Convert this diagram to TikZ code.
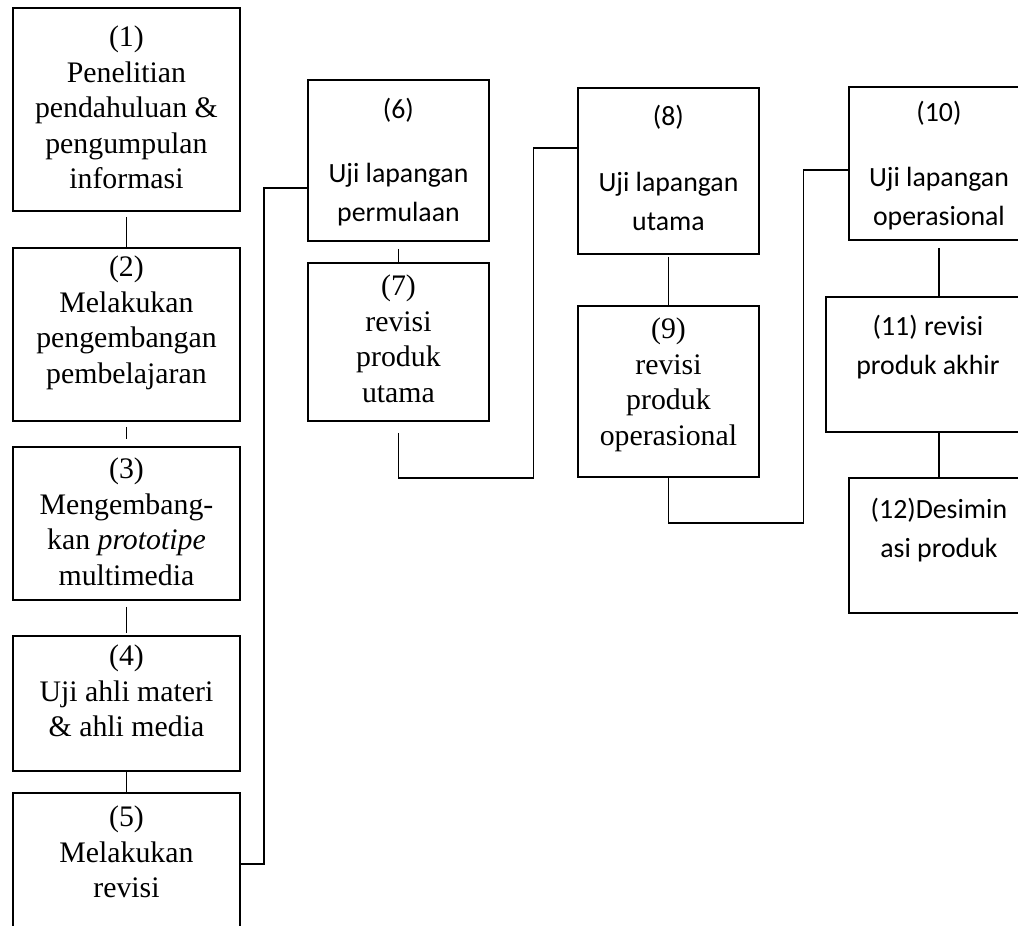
\documentclass[tikz,border=0pt]{standalone}
\usepackage{fontspec}
\setmainfont{Liberation Serif}
\newfontfamily\calfont{Carlito}
\begin{document}
\begin{tikzpicture}[x=1pt,y=-1pt,line width=1.9pt]
\tikzset{
  boxx/.style={draw, rectangle, line width=1.9pt, inner sep=0pt, anchor=north west},
  serif/.style={align=center, inner sep=0pt, anchor=north, font=\fontsize{29.8}{35.5}\selectfont},
  sans/.style={align=center, inner sep=0pt, anchor=north, font=\calfont\fontsize{27.8}{39}\selectfont},
  conn/.style={draw, line width=1.9pt}
}
\useasboundingbox (0,0) rectangle (1018,926);
\clip (0,0) rectangle (1018,926);
\fill[white] (0,0) rectangle (1018,926);

% boxes
\node[boxx, minimum width=227pt, minimum height=203pt] (b1) at (12,7) {};
\node[boxx, minimum width=227pt, minimum height=173pt] (b2) at (12,247) {};
\node[boxx, minimum width=227pt, minimum height=153pt] (b3) at (12,446) {};
\node[boxx, minimum width=227pt, minimum height=135pt] (b4) at (12,635) {};
\node[boxx, minimum width=227pt, minimum height=142pt] (b5) at (12,792) {};
\node[boxx, minimum width=181pt, minimum height=161pt] (b6) at (307,79) {};
\node[boxx, minimum width=181pt, minimum height=158pt] (b7) at (307,262) {};
\node[boxx, minimum width=181pt, minimum height=166pt] (b8) at (577,87) {};
\node[boxx, minimum width=181pt, minimum height=171pt] (b9) at (577,305) {};
\node[boxx, minimum width=180pt, minimum height=153pt] (b10) at (848,86) {};
\node[boxx, minimum width=226pt, minimum height=135pt] (b11) at (825,296) {};
\node[boxx, minimum width=180pt, minimum height=135pt] (b12) at (848,477) {};

% texts
\node[serif] (t1) at ([yshift=-18pt]b1.north) {(1)\\Penelitian\\pendahuluan \&\\pengumpulan\\informasi};
\node[serif] (t2) at ([yshift=-8pt]b2.north) {(2)\\Melakukan\\pengembangan\\pembelajaran};
\node[serif] (t3) at ([yshift=-11pt]b3.north) {(3)\\Mengembang-\\kan \textit{prototipe}\\multimedia};
\node[serif] (t4) at ([yshift=-9pt]b4.north) {(4)\\Uji ahli materi\\\& ahli media};
\node[serif] (t5) at ([yshift=-13pt]b5.north) {(5)\\Melakukan\\revisi};
\node[serif] (t7) at ([yshift=-12pt]b7.north) {(7)\\revisi\\produk\\utama};
\node[serif] (t9) at ([yshift=-12pt]b9.north) {(9)\\revisi\\produk\\operasional};
\node[sans] (t6) at ([yshift=-18pt]b6.north) {(6)\\[25pt]Uji lapangan\\permulaan};
\node[sans] (t8) at ([yshift=-17pt]b8.north) {(8)\\[27pt]Uji lapangan\\utama};
\node[sans] (t10) at ([yshift=-14pt]b10.north) {(10)\\[26pt]Uji lapangan\\operasional};
\node[sans] (t11) at ([xshift=-11pt,yshift=-18pt]b11.north) {(11) revisi\\produk akhir};
\node[sans] (t12) at ([yshift=-20pt]b12.north) {(12)Desimin\\asi produk};

% connectors
\draw[conn, shorten <=5pt] (b1.south) -- (b2.north);
\draw[conn, shorten <=5pt, shorten >=7pt] (b2.south) -- (b3.north);
\draw[conn, shorten <=6pt, shorten >=2pt] (b3.south) -- (b4.north);
\draw[conn] (b4.south) -- (b5.north);
\draw[conn] (b5.east) -- ++(23,0) |- ([yshift=-27.5pt]b6.west);
\draw[conn, shorten <=7pt] (b6.south) -- (b7.north);
\draw[conn] ([yshift=-11pt]b7.south) -- ++(0,45) -- ++(135,0) |- ([yshift=23pt]b8.west);
\draw[conn, shorten <=2pt] (b8.south) -- (b9.north);
\draw[conn] (b9.south) -- ++(0,45) -- ++(135,0) |- ([yshift=-6.5pt]b10.west);
\draw[conn, shorten <=7pt] (b10.south) -- (b11.north);
\draw[conn] (b11.south) -- (b12.north);
\end{tikzpicture}
\end{document}
